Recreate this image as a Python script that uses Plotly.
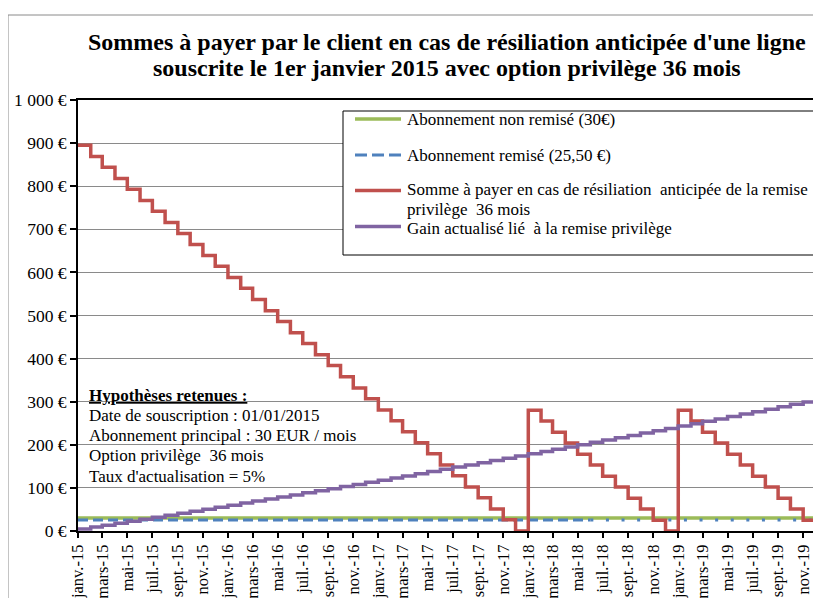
import plotly.graph_objects as go

# ---------------- data ----------------
mois = [
    "2015-01-01", "2015-02-01", "2015-03-01", "2015-04-01", "2015-05-01", "2015-06-01",
    "2015-07-01", "2015-08-01", "2015-09-01", "2015-10-01", "2015-11-01", "2015-12-01",
    "2016-01-01", "2016-02-01", "2016-03-01", "2016-04-01", "2016-05-01", "2016-06-01",
    "2016-07-01", "2016-08-01", "2016-09-01", "2016-10-01", "2016-11-01", "2016-12-01",
    "2017-01-01", "2017-02-01", "2017-03-01", "2017-04-01", "2017-05-01", "2017-06-01",
    "2017-07-01", "2017-08-01", "2017-09-01", "2017-10-01", "2017-11-01", "2017-12-01",
    "2018-01-01", "2018-02-01", "2018-03-01", "2018-04-01", "2018-05-01", "2018-06-01",
    "2018-07-01", "2018-08-01", "2018-09-01", "2018-10-01", "2018-11-01", "2018-12-01",
    "2019-01-01", "2019-02-01", "2019-03-01", "2019-04-01", "2019-05-01", "2019-06-01",
    "2019-07-01", "2019-08-01", "2019-09-01", "2019-10-01", "2019-11-01", "2019-12-01",
]
fin_periode = "2020-01-01"

etiquettes_x = [
    "janv.-15", "mars-15", "mai-15", "juil.-15", "sept.-15", "nov.-15",
    "janv.-16", "mars-16", "mai-16", "juil.-16", "sept.-16", "nov.-16",
    "janv.-17", "mars-17", "mai-17", "juil.-17", "sept.-17", "nov.-17",
    "janv.-18", "mars-18", "mai-18", "juil.-18", "sept.-18", "nov.-18",
    "janv.-19", "mars-19", "mai-19", "juil.-19", "sept.-19", "nov.-19",
]

valeurs_y = [0, 100, 200, 300, 400, 500, 600, 700, 800, 900, 1000]
etiquettes_y = ["0 €", "100 €", "200 €", "300 €", "400 €", "500 €",
                "600 €", "700 €", "800 €", "900 €", "1 000 €"]

abonnement_non_remise = [
    30, 30, 30, 30, 30, 30, 30, 30, 30, 30, 30, 30,
    30, 30, 30, 30, 30, 30, 30, 30, 30, 30, 30, 30,
    30, 30, 30, 30, 30, 30, 30, 30, 30, 30, 30, 30,
    30, 30, 30, 30, 30, 30, 30, 30, 30, 30, 30, 30,
    30, 30, 30, 30, 30, 30, 30, 30, 30, 30, 30, 30,
]
abonnement_remise = [
    25.5, 25.5, 25.5, 25.5, 25.5, 25.5, 25.5, 25.5, 25.5, 25.5, 25.5, 25.5,
    25.5, 25.5, 25.5, 25.5, 25.5, 25.5, 25.5, 25.5, 25.5, 25.5, 25.5, 25.5,
    25.5, 25.5, 25.5, 25.5, 25.5, 25.5, 25.5, 25.5, 25.5, 25.5, 25.5, 25.5,
    25.5, 25.5, 25.5, 25.5, 25.5, 25.5, 25.5, 25.5, 25.5, 25.5, 25.5, 25.5,
    25.5, 25.5, 25.5, 25.5, 25.5, 25.5, 25.5, 25.5, 25.5, 25.5, 25.5, 25.5,
]
somme_resiliation = [
    895, 869, 844, 818, 793, 767, 742, 716, 690, 665, 639, 614,
    588, 563, 537, 511, 486, 460, 435, 409, 384, 358, 332, 307,
    281, 256, 230, 205, 179, 153, 128, 102, 77, 51, 26, 0,
    280, 255, 229, 204, 178, 153, 127, 102, 76, 51, 25, 0,
    280, 255, 229, 204, 178, 153, 127, 102, 76, 51, 25, 0,
]
gain_actualise = [
    4.5, 9.0, 13.6, 18.1, 22.7, 27.3, 31.9, 36.5, 41.2, 45.8,
    50.5, 55.2, 59.9, 64.7, 69.4, 74.2, 79.0, 83.8, 88.6, 93.5,
    98.3, 103.2, 108.1, 113.1, 118.0, 123.0, 127.9, 132.9, 138.0, 143.3,
    148.3, 153.4, 158.5, 163.6, 168.8, 174.1, 179.3, 184.5, 189.8, 195.1,
    200.4, 205.7, 211.0, 216.4, 221.8, 227.2, 232.6, 238.1, 243.5, 249.0,
    254.5, 260.0, 265.6, 271.2, 276.8, 282.4, 288.1, 293.8, 299.5, 305.2,
]

noms = [
    "Abonnement non remisé (30€)",
    "Abonnement remisé (25,50 €)",
    "Somme à payer en cas de résiliation  anticipée de la remise",
    "privilège  36 mois",
    "Gain actualisé lié  à la remise privilège",
]
hypotheses = [
    "<b><u>Hypothèses retenues :</u></b>",
    "Date de souscription : 01/01/2015",
    "Abonnement principal : 30 EUR / mois",
    "Option privilège  36 mois",
    "Taux d'actualisation = 5%",
]
titre = [
    "<b>Sommes à payer par le client en cas de résiliation anticipée d'une ligne</b>",
    "<b>souscrite le 1er janvier 2015 avec option privilège 36 mois</b>",
]

# ---------------- layout helpers ----------------
# The page body has an 8 px margin: the figure starts at (8, 8) of the window.
OFF = 8
W, H = 821 - OFF, 598 - OFF
L, R, T = 78 - OFF, 0, 100 - OFF
B = H - (531 - OFF)
PW, PH = W - L - R, H - T - B


def px(x):  # window pixel -> paper x
    return (x - OFF - L) / PW


def py(y):  # window pixel -> paper y
    return 1 - (y - OFF - T) / PH


FONT = "Liberation Serif"
VERT, BLEU, ROUGE, VIOLET = "#9BBB59", "#4F81BD", "#C0504D", "#8064A2"

x_ext = mois + [fin_periode]


def ext(v):
    return list(v) + [v[-1]]


i_pointille = 41  # the blue line turns dotted from here on in the original

fig = go.Figure()
fig.add_trace(go.Scatter(x=x_ext, y=ext(abonnement_non_remise), mode="lines",
                         line=dict(color=VERT, width=3.5, shape="hv"),
                         name=noms[0], showlegend=False, hoverinfo="skip"))
fig.add_trace(go.Scatter(x=mois[:i_pointille + 1], y=abonnement_remise[:i_pointille + 1],
                         mode="lines",
                         line=dict(color=BLEU, width=3, dash="10px,5px", shape="hv"),
                         name=noms[1], showlegend=False, hoverinfo="skip"))
fig.add_trace(go.Scatter(x=x_ext[i_pointille:], y=ext(abonnement_remise)[i_pointille:],
                         mode="lines",
                         line=dict(color=BLEU, width=3, dash="3px,12.6px", shape="hv"),
                         name=noms[1], showlegend=False, hoverinfo="skip"))
fig.add_trace(go.Scatter(x=x_ext, y=ext(somme_resiliation), mode="lines",
                         line=dict(color=ROUGE, width=3.5, shape="hv"),
                         name=noms[2], showlegend=False, hoverinfo="skip"))
fig.add_trace(go.Scatter(x=x_ext, y=ext(gain_actualise), mode="lines",
                         line=dict(color=VIOLET, width=3.5, shape="hv"),
                         name=noms[4], showlegend=False, hoverinfo="skip"))

shapes = []
# outer chart border (the rest is off-picture)
shapes.append(dict(type="rect", xref="paper", yref="paper",
                   x0=px(8), x1=px(900), y0=py(15), y1=py(700),
                   line=dict(color="#8a8a8a", width=1), fillcolor="rgba(0,0,0,0)",
                   layer="below"))
# legend box
shapes.append(dict(type="rect", xref="paper", yref="paper",
                   x0=px(343), x1=px(815), y0=py(111), y1=py(255),
                   line=dict(color="black", width=1), fillcolor="white", layer="above"))
leg_y = [119, 155, 190.5, 226.5]
leg_style = [
    dict(color=VERT, width=3.5),
    dict(color=BLEU, width=3, dash="12px,5px"),
    dict(color=ROUGE, width=3.5),
    dict(color=VIOLET, width=3.5),
]
for yy, st in zip(leg_y, leg_style):
    shapes.append(dict(type="line", xref="paper", yref="paper",
                       x0=px(355), x1=px(401), y0=py(yy), y1=py(yy),
                       line=st, layer="above"))

annotations = []
for txt, yy in zip(titre, [42, 68]):
    annotations.append(dict(text=txt, xref="paper", yref="paper", x=px(447), y=py(yy),
                            xanchor="center", yanchor="middle", showarrow=False,
                            font=dict(family=FONT, size=24, color="black")))
for txt, yy in zip(noms, [119, 155, 189, 209, 228.5]):
    annotations.append(dict(text=txt, xref="paper", yref="paper", x=px(405), y=py(yy),
                            xanchor="left", yanchor="middle", showarrow=False,
                            font=dict(family=FONT, size=17, color="black")))
for txt, yy in zip(hypotheses, [395, 415, 435, 455, 476]):
    annotations.append(dict(text=txt, xref="paper", yref="paper", x=px(87), y=py(yy),
                            xanchor="left", yanchor="middle", showarrow=False,
                            font=dict(family=FONT, size=17, color="black")))

fig.update_layout(
    width=W, height=H,
    margin=dict(l=L, r=R, t=T, b=B, pad=0),
    paper_bgcolor="white", plot_bgcolor="white",
    showlegend=False,
    font=dict(family=FONT, color="black"),
    shapes=shapes, annotations=annotations,
    xaxis=dict(
        type="date", range=["2015-01-01", "2019-12-14 10:00"],
        tickmode="array", tickvals=mois[::2], ticktext=etiquettes_x,
        tickangle=-90, ticks="outside", ticklen=5, tickwidth=1.5, tickcolor="black",
        showline=True, linecolor="black", linewidth=2, mirror=True,
        showgrid=False, zeroline=False, automargin=False,
        tickfont=dict(family=FONT, size=16.5, color="black"),
    ),
    yaxis=dict(
        range=[0, 1000], tickmode="array", tickvals=valeurs_y, ticktext=etiquettes_y,
        ticks="outside", ticklen=6, tickwidth=1.5, tickcolor="black",
        showline=True, linecolor="black", linewidth=2,
        showgrid=True, gridcolor="#8a8a8a", gridwidth=1,
        zeroline=False, automargin=False,
        tickfont=dict(family=FONT, size=17.5, color="black"),
    ),
)

fig.write_html("out.html")
